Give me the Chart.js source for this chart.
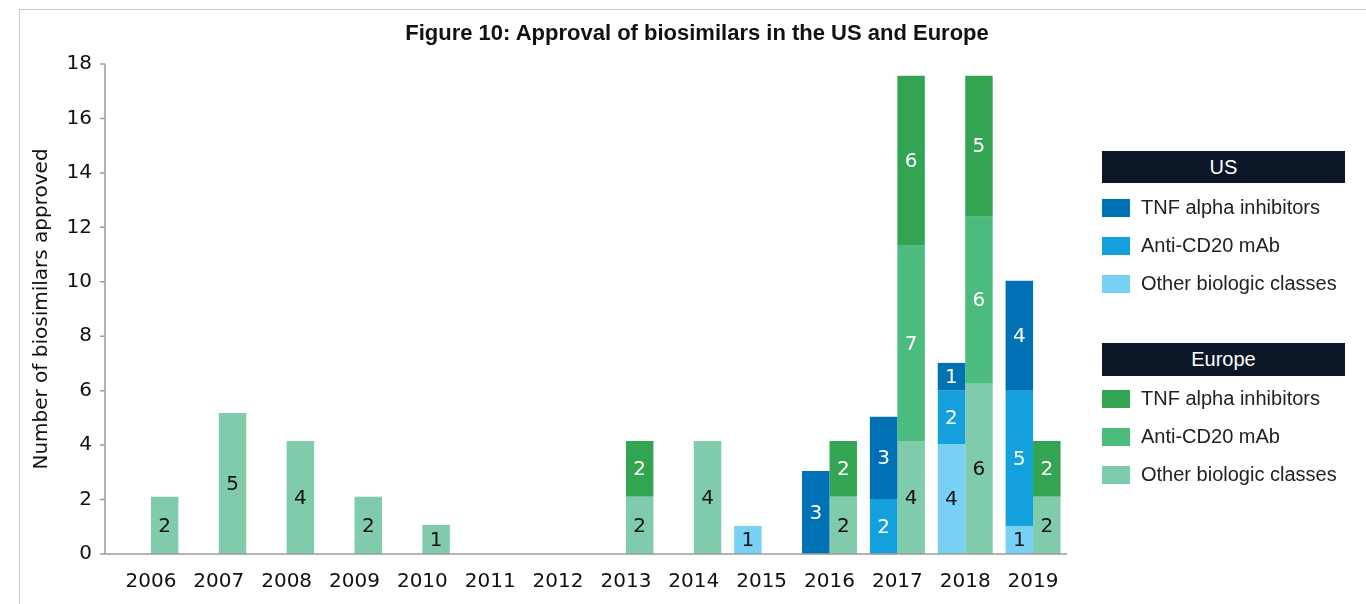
<!DOCTYPE html>
<html>
<head>
<meta charset="utf-8">
<script src="https://cdn.jsdelivr.net/npm/chart.js@4/dist/chart.umd.min.js"></script>
<style>
  html, body { margin: 0; padding: 0; background: #fff; }
  #wrap { position: relative; width: 1366px; height: 604px; overflow: hidden; }
  #frame { position: absolute; left: 19px; top: 9px; right: -2px; bottom: -2px;
           border-left: 1px solid #c5cad0; border-top: 1px solid #c5cad0; }
  #title { position: absolute; top: 20px; left: 397px; width: 600px; text-align: center;
           font: bold 22px "Liberation Sans", Arial, sans-serif; color: #111; }
  .lg-head { position: absolute; left: 1102px; width: 243px; height: 32px; background: #0c1626;
             color: #fff; font: 20px "Liberation Sans", Arial, sans-serif; line-height: 32px; text-align: center; }
  .lg-item { position: absolute; left: 1102px; height: 20px; font: 20px "Liberation Sans", Arial, sans-serif;
             color: #222; line-height: 20px; white-space: nowrap; }
  .lg-item span { display: inline-block; width: 28px; height: 18px; vertical-align: -3px; margin-right: 11px; }
</style>
</head>
<body>
<div id="wrap">
  <canvas id="biosimChart" width="1366" height="604"></canvas>
  <div id="frame"></div>
  <div id="title">Figure 10: Approval of biosimilars in the US and Europe</div>
  <div class="lg-head" style="top:151px">US</div>
  <div class="lg-item" style="top:197px"><span style="background:#0071b4"></span>TNF alpha inhibitors</div>
  <div class="lg-item" style="top:235px"><span style="background:#14a0dd"></span>Anti-CD20 mAb</div>
  <div class="lg-item" style="top:273px"><span style="background:#78d1f5"></span>Other biologic classes</div>
  <div class="lg-head" style="top:343px;height:33px;line-height:33px">Europe</div>
  <div class="lg-item" style="top:388px"><span style="background:#33a552"></span>TNF alpha inhibitors</div>
  <div class="lg-item" style="top:426px"><span style="background:#4bbb7e"></span>Anti-CD20 mAb</div>
  <div class="lg-item" style="top:464px"><span style="background:#80cbab"></span>Other biologic classes</div>
</div>
<script>
// data (bar heights as drawn; labels are the rounded counts)
const years = ['2006', '2007', '2008', '2009', '2010', '2011', '2012', '2013', '2014', '2015', '2016', '2017', '2018', '2019'];
const usOther = [null, null, null, null, null, null, null, null, null, 1.03, null, null, 4.04, 1.03];
const usAntiCD20 = [null, null, null, null, null, null, null, null, null, null, null, 2.02, 1.96, 4.97];
const usTnf = [null, null, null, null, null, null, null, null, null, null, 3.05, 3.02, 1.02, 4.04];
const euOther = [2.1, 5.18, 4.15, 2.1, 1.07, null, null, 2.1, 4.15, null, 2.1, 4.15, 6.25, 2.1];
const euAntiCD20 = [null, null, null, null, null, null, null, null, null, null, null, 7.17, 6.14, null];
const euTnf = [null, null, null, null, null, null, null, 2.05, null, null, 2.05, 6.25, 5.18, 2.05];
const yTicks = [0, 2, 4, 6, 8, 10, 12, 14, 16, 18];

const numFont = { family: 'DejaVu Sans', size: 20 };
const axisColor = '#9b9b9b';

// axis lines: the y axis sits a bit left of the first category
const axesPlugin = {
  id: 'axes',
  afterDatasetsDraw(chart) {
    const { ctx, chartArea, scales: { y } } = chart;
    const ax = chartArea.left - 12;
    const y0 = y.getPixelForValue(0);
    ctx.save();
    ctx.strokeStyle = axisColor;
    ctx.lineWidth = 1.5;
    ctx.beginPath();
    ctx.moveTo(ax, y.getPixelForValue(18));
    ctx.lineTo(ax, y0);
    ctx.lineTo(chartArea.right, y0);
    yTicks.forEach(t => {
      const py = y.getPixelForValue(t);
      ctx.moveTo(ax - 5, py);
      ctx.lineTo(ax, py);
    });
    ctx.stroke();
    ctx.restore();
  }
};

// value labels in the middle of each segment
const labelPlugin = {
  id: 'segLabels',
  afterDatasetsDraw(chart) {
    const { ctx } = chart;
    ctx.save();
    ctx.font = '20px "DejaVu Sans"';
    ctx.textAlign = 'center';
    ctx.textBaseline = 'middle';
    chart.data.datasets.forEach((ds, i) => {
      const meta = chart.getDatasetMeta(i);
      ctx.fillStyle = ds.labelColor;
      meta.data.forEach((bar, j) => {
        const v = ds.data[j];
        if (v == null) return;
        const p = bar.getProps(['x', 'y', 'base'], true);
        ctx.fillText(String(Math.round(v)), p.x, (p.y + p.base) / 2 + 1);
      });
    });
    ctx.restore();
  }
};

const ctx = document.getElementById('biosimChart').getContext('2d');
const biosimChart = new Chart(ctx, {
  type: 'bar',
  data: {
    labels: years,
    datasets: [
      { label: 'US Other biologic classes', data: usOther, stack: 'US', backgroundColor: '#78d1f5', labelColor: '#111' },
      { label: 'US Anti-CD20 mAb', data: usAntiCD20, stack: 'US', backgroundColor: '#14a0dd', labelColor: '#fff' },
      { label: 'US TNF alpha inhibitors', data: usTnf, stack: 'US', backgroundColor: '#0071b4', labelColor: '#fff' },
      { label: 'Europe Other biologic classes', data: euOther, stack: 'EU', backgroundColor: '#80cbab', labelColor: '#111' },
      { label: 'Europe Anti-CD20 mAb', data: euAntiCD20, stack: 'EU', backgroundColor: '#4bbb7e', labelColor: '#fff' },
      { label: 'Europe TNF alpha inhibitors', data: euTnf, stack: 'EU', backgroundColor: '#33a552', labelColor: '#fff' }
    ]
  },
  options: {
    responsive: false,
    animation: false,
    categoryPercentage: 0.81,
    barPercentage: 1,
    layout: { padding: { left: 20, top: 64, right: 299, bottom: 10 } },
    plugins: { legend: { display: false }, tooltip: { enabled: false } },
    scales: {
      x: {
        stacked: true,
        afterFit(scale) { scale.height = 40; },
        grid: { display: false, drawTicks: false },
        border: { display: false },
        ticks: { color: '#111', font: numFont, padding: 16, maxRotation: 0 }
      },
      y: {
        stacked: true,
        min: 0,
        max: 18,
        afterFit(scale) { scale.width = 97; },
        grid: { display: false, drawTicks: false },
        border: { display: false },
        ticks: { stepSize: 2, color: '#111', font: numFont, padding: 25 },
        title: {
          display: true,
          text: 'Number of biosimilars approved',
          color: '#111',
          font: { family: 'DejaVu Sans', size: 20 },
          padding: { top: 10, bottom: 0 }
        }
      }
    }
  },
  plugins: [axesPlugin, labelPlugin]
});
</script>
</body>
</html>
